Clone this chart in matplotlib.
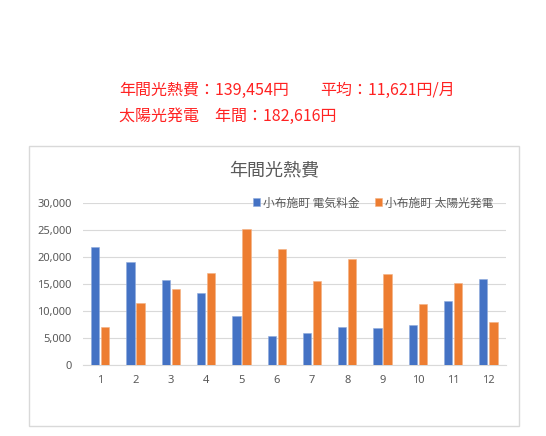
import matplotlib
matplotlib.use("Agg")
import matplotlib.pyplot as plt
from matplotlib.patches import Rectangle
import numpy as np

plt.rcParams['font.family'] = ['Noto Sans CJK JP', 'DejaVu Sans']

months = ['1', '2', '3', '4', '5', '6', '7', '8', '9', '10', '11', '12']
electricity = [21900, 19200, 15800, 13400, 9000, 5450, 5900, 7050, 6800, 7350, 11950, 15950]
solar = [7000, 11500, 14100, 17000, 25250, 21500, 15500, 19600, 16950, 11250, 15150, 8000]
series_names = ['小布施町 電気料金', '小布施町 太陽光発電']
yticks = [0, 5000, 10000, 15000, 20000, 25000, 30000]
chart_title = '年間光熱費'
note1a = '年間光熱費：139,454円'
note1b = '平均：11,621円/月'
note2 = '太陽光発電　年間：182,616円'

W, H = 546, 436
fig = plt.figure(figsize=(W / 100, H / 100), dpi=100)
fig.patch.set_facecolor('white')

# chart frame
fig.patches.append(Rectangle((29.3 / W, 1 - 426 / H), 490 / W, 280.3 / H,
                             transform=fig.transFigure, fill=False,
                             edgecolor='#D9D9D9', linewidth=1.0))

ax = fig.add_axes([82.7 / W, 1 - 365 / H, (506 - 82.7) / W, (365 - 203.3) / H])
x = np.arange(len(months))
bw = 0.235
off = 0.142
ax.bar(x - off, electricity, bw, color='#4472C4', edgecolor='#8FAADC', linewidth=0.4,
       label=series_names[0], zorder=3)
ax.bar(x + off, solar, bw, color='#ED7D31', edgecolor='#F4B183', linewidth=0.4,
       label=series_names[1], zorder=3)

ax.set_xlim(-0.5, len(months) - 0.5)
ax.set_ylim(0, 30000)
ax.set_yticks(yticks)
ax.set_yticklabels([f'{v:,}' for v in yticks])
ax.set_xticks(x)
ax.set_xticklabels(months)
ax.grid(axis='y', color='#D9D9D9', linewidth=0.8, zorder=0)
for s in ['top', 'right', 'left']:
    ax.spines[s].set_visible(False)
ax.spines['bottom'].set_color('#D9D9D9')
ax.spines['bottom'].set_linewidth(0.8)
ax.tick_params(axis='both', length=0, labelsize=8, colors='#595959',
               labelfontfamily='Noto Sans')
ax.tick_params(axis='y', pad=8)
ax.tick_params(axis='x', pad=7)

ax.legend(loc='center right', bbox_to_anchor=(499 / W, 1 - 203 / H),
          bbox_transform=fig.transFigure, ncol=2, frameon=False,
          fontsize=8.5, handlelength=0.65, handleheight=0.65, handletextpad=0.2,
          columnspacing=1.3, borderpad=0, labelcolor='#595959')

fig.text(274.3 / W, 1 - 170 / H, chart_title, ha='center', va='center',
         fontsize=13, color='#595959')

red = '#FF2222'
fig.text(119 / W, 1 - 90 / H, note1a, ha='left', va='center', fontsize=11.5, color=red)
fig.text(320 / W, 1 - 90 / H, note1b, ha='left', va='center', fontsize=11.5, color=red)
fig.text(119 / W, 1 - 116 / H, note2, ha='left', va='center', fontsize=11.5, color=red)

fig.savefig('out.png', dpi=100)
